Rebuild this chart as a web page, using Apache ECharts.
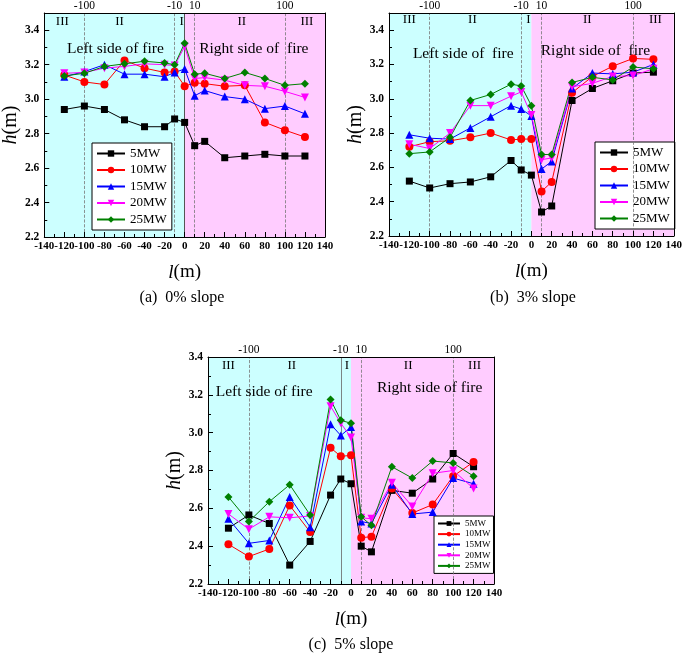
<!DOCTYPE html>
<html>
<head>
<meta charset="utf-8">
<script src="https://cdn.jsdelivr.net/npm/echarts@6/dist/echarts.min.js"></script>
<style>html,body{margin:0;padding:0;background:#fff;}#c{width:685px;height:656px;}</style>
</head>
<body>
<div id="c"></div>
<script>
// ---- data ----
const xs = [-120, -100, -80, -60, -40, -20, -10, 0, 10, 20, 40, 60, 80, 100, 120];
const names = ['5MW', '10MW', '15MW', '20MW', '25MW'];
const topTicks = [-100, -10, 10, 100];
const xTicks = [-140, -120, -100, -80, -60, -40, -20, 0, 20, 40, 60, 80, 100, 120, 140];

// (a) 0% slope
const a5  = [2.94, 2.96, 2.94, 2.88, 2.84, 2.84, 2.885, 2.865, 2.73, 2.755, 2.66, 2.67, 2.68, 2.67, 2.67];
const a10 = [3.14, 3.10, 3.085, 3.225, 3.18, 3.155, 3.16, 3.075, 3.095, 3.09, 3.075, 3.08, 2.865, 2.82, 2.78];
const a15 = [3.13, 3.16, 3.20, 3.145, 3.145, 3.13, 3.155, 3.175, 3.02, 3.05, 3.015, 3.00, 2.945, 2.96, 2.915];
const a20 = [3.15, 3.155, 3.18, 3.19, 3.205, 3.20, 3.195, 3.305, 3.12, 3.125, 3.11, 3.08, 3.075, 3.045, 3.01];
const a25 = [3.135, 3.15, 3.19, 3.205, 3.22, 3.21, 3.20, 3.325, 3.145, 3.15, 3.12, 3.155, 3.12, 3.08, 3.09];

// (b) 3% slope
const b5  = [2.52, 2.48, 2.505, 2.515, 2.545, 2.64, 2.585, 2.555, 2.34, 2.375, 2.99, 3.06, 3.105, 3.15, 3.155];
const b10 = [2.72, 2.75, 2.755, 2.775, 2.80, 2.76, 2.765, 2.765, 2.46, 2.515, 3.035, 3.13, 3.19, 3.235, 3.23];
const b15 = [2.79, 2.77, 2.765, 2.83, 2.895, 2.96, 2.94, 2.90, 2.59, 2.635, 3.06, 3.15, 3.145, 3.155, 3.20];
const b20 = [2.735, 2.71, 2.80, 2.96, 2.96, 3.015, 3.04, 2.905, 2.645, 2.655, 3.07, 3.09, 3.13, 3.135, 3.175];
const b25 = [2.68, 2.69, 2.775, 2.99, 3.025, 3.085, 3.075, 2.96, 2.675, 2.675, 3.095, 3.125, 3.11, 3.185, 3.175];

// (c) 5% slope
const c5  = [2.495, 2.565, 2.52, 2.30, 2.425, 2.67, 2.755, 2.73, 2.40, 2.37, 2.695, 2.68, 2.755, 2.89, 2.82];
const c10 = [2.41, 2.345, 2.385, 2.615, 2.475, 2.92, 2.875, 2.88, 2.445, 2.45, 2.705, 2.575, 2.62, 2.77, 2.845];
const c15 = [2.545, 2.415, 2.43, 2.66, 2.50, 3.045, 2.985, 3.03, 2.53, 2.52, 2.725, 2.57, 2.58, 2.76, 2.73];
const c20 = [2.57, 2.49, 2.555, 2.55, 2.56, 3.14, 3.05, 2.975, 2.55, 2.545, 2.735, 2.61, 2.785, 2.80, 2.705];
const c25 = [2.66, 2.53, 2.635, 2.725, 2.565, 3.175, 3.065, 3.05, 2.555, 2.51, 2.82, 2.76, 2.85, 2.84, 2.77];

const panelSets = [[a5, a10, a15, a20, a25], [b5, b10, b15, b20, b25], [c5, c10, c15, c20, c25]];
const panelTitles = ['(a)  0% slope', '(b)  3% slope', '(c)  5% slope'];
const regionNames = ['III', 'II', 'I', 'II', 'III'];
const sideNames = [
  ['Left side of fire', 'Right side of  fire'],
  ['Left side of  fire', 'Right side of  fire'],
  ['Left side of fire', 'Right side of fire']
];

// ---- styles / layout ----
const FONT = 'Liberation Serif';
const colors = ['#000000', '#ff0000', '#0000ff', '#ff00ff', '#008000'];
const symbols = ['rect', 'circle', 'triangle', 'triangle', 'diamond'];
const rotates = [0, 0, 0, 180, 0];
const symSizes = [[7, 8, 8, 8, 8], [7, 8, 8, 8, 8], [7, 8, 8, 8, 8]];
const grids = [
  { left: 37, top: 10, width: 288, height: 227 },
  { left: 389, top: 9, width: 287, height: 227 },
  { left: 208, top: 357, width: 286, height: 227 }
];
const yMax = [3.5, 3.5, 3.4];
const regionX = [[-122, -65, -3, 57, 122], [-120, -58, -3, 55, 122], [-120, -58, -4, 56, 121]];
const regionY = [3.45, 3.46, 3.355];
const sideX = [[-69, 69], [-67, 63], [-85, 77]];
const sideY = [[3.29, 3.29], [3.26, 3.28], [3.215, 3.235]];
const sideFont = 15.5;
const titlePos = [[182, 298], [533, 298], [351, 645]];
const legendBox = [
  { left: 92, top: 143, fs: 13, gap: 3.5, w: 28, h: 8, pad: [4, 5, 4, 4] },
  { left: 595, top: 142, fs: 13, gap: 3.5, w: 28, h: 8, pad: [4, 5, 4, 4] },
  { left: 434, top: 516, fs: 9, gap: 1.6, w: 22, h: 6, pad: [3, 3, 3, 3] }
];

const xAxes = [], yAxes = [], series = [], legends = [], graphics = [];

panelSets.forEach((sets, g) => {
  xAxes.push({
    type: 'value', gridIndex: g, min: -140, max: 140, interval: 20, position: 'bottom', z: 10,
    axisLine: { show: true, onZero: false, lineStyle: { color: '#000', width: 1 } },
    axisTick: { show: true, inside: true, length: 5, lineStyle: { color: '#000' } },
    minorTick: { show: true, splitNumber: 2, length: 3, lineStyle: { color: '#000' } },
    splitLine: { show: false },
    axisLabel: { fontFamily: FONT, fontWeight: 'bold', fontSize: 11, color: '#000', margin: 4,
      showMinLabel: true, showMaxLabel: true, hideOverlap: false,
      formatter: v => (xTicks.indexOf(v) >= 0 ? String(v) : '') },
    name: '{i|l}(m)', nameLocation: 'middle', nameGap: 26,
    nameTextStyle: { fontFamily: FONT, fontSize: 19, color: '#000',
      rich: { i: { fontFamily: FONT, fontSize: 19, fontStyle: 'italic', color: '#000' } } }
  });
  yAxes.push({
    type: 'value', gridIndex: g, min: 2.2, max: yMax[g], interval: 0.2, z: 10,
    axisLine: { show: true, onZero: false, lineStyle: { color: '#000', width: 1 } },
    axisTick: { show: true, inside: true, length: 5, lineStyle: { color: '#000' } },
    minorTick: { show: true, splitNumber: 2, length: 3, lineStyle: { color: '#000' } },
    splitLine: { show: false },
    axisLabel: { fontFamily: FONT, fontWeight: 'bold', fontSize: 11.5, color: '#000', margin: 5,
      showMinLabel: true,
      formatter: v => (v > 3.45 ? '' : v.toFixed(1)) },
    name: '{i|h}(m)', nameLocation: 'middle', nameGap: 22,
    nameTextStyle: { fontFamily: FONT, fontSize: 20, color: '#000',
      rich: { i: { fontFamily: FONT, fontSize: 20, fontStyle: 'italic', color: '#000' } } }
  });
});
// top x axes (labels -100, -10, 10, 100) and right y axes (frame)
panelSets.forEach((sets, g) => {
  xAxes.push({
    type: 'value', gridIndex: g, min: -140, max: 140, interval: 10, position: 'top', z: 10,
    axisLine: { show: true, onZero: false, lineStyle: { color: '#000', width: 1 } },
    axisTick: { show: false }, splitLine: { show: false },
    axisLabel: { fontFamily: FONT, fontSize: 11.5, color: '#000', margin: 1,
      formatter: v => (topTicks.indexOf(v) >= 0 ? String(v) : '') }
  });
  yAxes.push({
    type: 'value', gridIndex: g, min: 2.2, max: yMax[g], position: 'right', z: 10,
    axisLine: { show: true, onZero: false, lineStyle: { color: '#000', width: 1 } },
    axisTick: { show: false }, axisLabel: { show: false }, splitLine: { show: false }
  });
});

panelSets.forEach((sets, g) => {
  const marks = [];
  regionNames.forEach((r, i) => marks.push({ name: r, coord: [regionX[g][i], regionY[g]] }));
  const sideMarks = sideNames[g].map((s, i) => ({
    name: s, coord: [sideX[g][i], sideY[g][i]], label: { fontSize: sideFont }
  }));
  const lines = topTicks.map(t => ({ xAxis: t }));
  if (g === 0) lines.push({ xAxis: 0, lineStyle: { type: 'solid', color: '#555', width: 1 } });
  if (g === 2) lines[1] = { xAxis: -10, lineStyle: { type: 'solid', color: '#666', width: 0.8 } };
  series.push({
    type: 'line', xAxisIndex: g, yAxisIndex: g, data: [], silent: true, z: 1,
    markArea: {
      silent: true,
      data: [
        [{ xAxis: -140, itemStyle: { color: '#ccffff' } }, { xAxis: 0 }],
        [{ xAxis: 0, itemStyle: { color: '#ffccff' } }, { xAxis: 140 }]
      ]
    },
    markLine: {
      silent: true, symbol: ['none', 'none'], label: { show: false },
      lineStyle: { type: 'dashed', color: '#777', width: 0.8 },
      data: lines
    },
    markPoint: {
      silent: true, symbol: 'circle', symbolSize: 0,
      label: { show: true, position: 'inside', color: '#000', fontFamily: FONT, fontSize: 13,
        formatter: q => q.name },
      data: marks.concat(sideMarks)
    }
  });
  sets.forEach((vals, k) => {
    series.push({
      name: names[k], type: 'line', xAxisIndex: g, yAxisIndex: g, z: 5,
      data: xs.map((x, i) => [x, vals[i]]),
      symbol: symbols[k], symbolRotate: rotates[k], symbolSize: symSizes[g][k],
      showAllSymbol: true,
      lineStyle: { color: colors[k], width: 1 },
      itemStyle: { color: colors[k], borderWidth: 0 }
    });
  });
  const lb = legendBox[g];
  legends.push({
    data: names, orient: 'vertical', left: lb.left, top: lb.top,
    itemGap: lb.gap, itemWidth: lb.w, itemHeight: lb.h,
    backgroundColor: '#fff', borderColor: '#000', borderWidth: 1,
    padding: lb.pad, selectedMode: false,
    textStyle: { fontFamily: FONT, fontSize: lb.fs, color: '#000' }
  });
  graphics.push({
    type: 'text', x: titlePos[g][0], y: titlePos[g][1],
    style: { text: panelTitles[g], fontFamily: FONT, fontSize: 16, fill: '#000', textAlign: 'center', textVerticalAlign: 'middle' }
  });
});

const chart = echarts.init(document.getElementById('c'), null, { renderer: 'canvas' });
chart.setOption({
  animation: false,
  backgroundColor: '#fff',
  grid: grids,
  xAxis: xAxes,
  yAxis: yAxes,
  legend: legends,
  series: series,
  graphic: graphics
});
</script>
</body>
</html>
